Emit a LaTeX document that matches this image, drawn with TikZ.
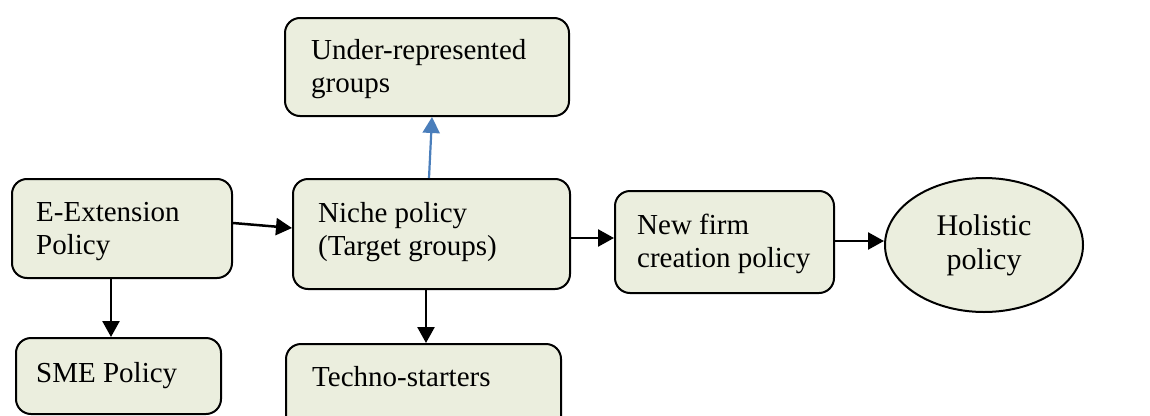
\documentclass[tikz,border=0pt]{standalone}
\usepackage{fontspec}
\setmainfont{Liberation Serif}
\usetikzlibrary{arrows.meta,shapes.geometric}
\definecolor{boxfill}{RGB}{235,238,222}
\definecolor{linkblue}{RGB}{74,126,187}
\begin{document}
\begin{tikzpicture}[x=1pt,y=-1pt,
  stepbox/.style={draw=black, line width=2pt, fill=boxfill, rounded corners=15pt,
    anchor=north west, inner sep=0pt},
  lbl/.style={anchor=base west, align=left, inner sep=0pt,
    font=\fontsize{29}{33}\selectfont},
  link/.style={line width=2.5pt, -{Triangle[length=16pt,width=17pt]}},
  bluelink/.style={link, draw=linkblue, line width=2.2pt}]
\useasboundingbox (0,0) rectangle (1150,415);
\clip (0,0) rectangle (1150,415);
% boxes
\node[stepbox, minimum width=220pt, minimum height=99pt]  (E) at (11,178) {};
\node[stepbox, minimum width=205pt, minimum height=76pt]  (S) at (15,337) {};
\node[stepbox, minimum width=284pt, minimum height=98pt]  (U) at (284,17) {};
\node[stepbox, minimum width=277pt, minimum height=110pt] (N) at (292,178) {};
\node[stepbox, minimum width=275pt, minimum height=90pt]  (T) at (285,343) {};
\node[stepbox, minimum width=219pt, minimum height=102pt] (F) at (614,190) {};
\node[ellipse, draw=black, line width=2pt, fill=boxfill, inner sep=0pt,
  minimum width=198pt, minimum height=134pt, align=center,
  font=\fontsize{30}{34}\selectfont] (H) at (984,245) {Holistic\\policy};
% labels (base anchor sits on the last line)
\node[lbl] (tE) at (36,254)  {E-Extension\\Policy};
\node[lbl] (tS) at (36,382)  {SME Policy};
\node[lbl] (tU) at (311,92)  {Under-represented\\groups};
\node[lbl] (tN) at (318,255) {Niche policy\\(Target groups)};
\node[lbl] (tT) at (312,386) {Techno-starters};
\node[lbl] (tF) at (637,267) {New firm\\creation policy};
% connectors
\draw[link] ([yshift=5.5pt]E.east) -- ([yshift=6pt]N.west);
\draw[link] ([xshift=-11pt]E.south) -- ([xshift=-7.5pt]S.north);
\draw[link] ([xshift=-5.5pt]N.south) -- ([xshift=2.5pt]T.north);
\draw[bluelink] ([xshift=-2.5pt]N.north) -- ([xshift=5pt]U.south);
\draw[link] ([yshift=-4pt]N.east) -- ([yshift=4pt]F.west);
\draw[link] ([yshift=1pt]F.east) -- ([yshift=1pt]F.east -| H.west);
\end{tikzpicture}
\end{document}
